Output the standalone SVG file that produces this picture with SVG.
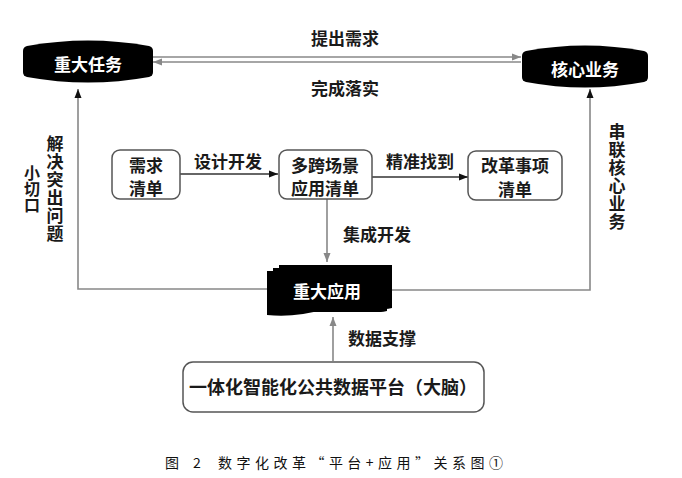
<svg xmlns="http://www.w3.org/2000/svg" width="682" height="478" viewBox="0 0 682 478">
<style>
  .t{font-family:"Noto Sans CJK SC","Noto Sans",sans-serif;font-weight:bold;fill:#1a1a1a;font-size:17px}
  .w{fill:#ffffff}
  .c{text-anchor:middle;dominant-baseline:central}
  .v{writing-mode:vertical-rl;text-anchor:middle}
  .box{fill:#ffffff;stroke:#555;stroke-width:1.5}
  .blk{fill:#000}
  .lg{fill:none;stroke:#888;stroke-width:1.6}
  .lb{fill:none;stroke:#333;stroke-width:1.5}
  .cap{font-family:"Noto Sans CJK SC","Noto Sans",sans-serif;font-size:14px;fill:#111}
</style>
<defs>
  <marker id="ag" markerUnits="userSpaceOnUse" markerWidth="10" markerHeight="10" refX="9" refY="5" orient="auto">
    <path d="M0,1.5 L9,5 L0,8.5 Z" fill="#888"/>
  </marker>
  <marker id="ab" markerUnits="userSpaceOnUse" markerWidth="10" markerHeight="10" refX="9" refY="5" orient="auto">
    <path d="M0,1.5 L9,5 L0,8.5 Z" fill="#111"/>
  </marker>
</defs>
<rect width="682" height="478" fill="#ffffff"/>

<g id="connectors">
  <line class="lg" x1="153" y1="57" x2="521" y2="57" marker-end="url(#ag)"/>
  <line class="lg" x1="521" y1="62" x2="153" y2="62" marker-end="url(#ag)"/>
  <polyline class="lg" points="268,289 78,289 78,89" marker-end="url(#ab)"/>
  <polyline class="lg" points="390,290 590,290 590,89" marker-end="url(#ab)"/>
  <line class="lb" x1="180" y1="174" x2="278" y2="174" marker-end="url(#ab)"/>
  <line class="lb" x1="372" y1="177" x2="468" y2="177" marker-end="url(#ab)"/>
  <line class="lg" x1="327" y1="199" x2="327" y2="262" marker-end="url(#ag)"/>
  <line class="lg" x1="333" y1="361" x2="333" y2="317" marker-end="url(#ag)"/>
  <text class="t c" x="345" y="37">提出需求</text>
  <text class="t c" x="345" y="87">完成落实</text>
  <text class="t c" x="228" y="160">设计开发</text>
  <text class="t c" x="420" y="160">精准找到</text>
  <text class="t c" x="377" y="233">集成开发</text>
  <text class="t c" x="382" y="337">数据支撑</text>
  <text class="t v" x="55" y="189" style="letter-spacing:1px">解决突出问题</text>
  <text class="t v" x="32" y="189" style="font-size:16px">小切口</text>
  <text class="t v" x="617" y="177" style="letter-spacing:1px">串联核心业务</text>
</g>

<g id="zdrw">
  <path class="blk" d="M27,46 Q88,35 149,46 Q153,47 153,51 L153,72 Q153,76 149,77 Q88,88 27,77 Q23,76 23,72 L23,51 Q23,47 27,46 Z"/>
  <text class="t c w" x="88" y="63">重大任务</text>
</g>

<g id="hxyw">
  <path class="blk" d="M526,51 Q585,40 644,51 Q648,52 648,56 L648,77 Q648,81 644,82 Q585,93 526,82 Q522,81 522,77 L522,56 Q522,52 526,51 Z"/>
  <text class="t c w" x="585" y="68">核心业务</text>
</g>

<g id="xqqd">
  <rect class="box" x="112" y="150" width="68" height="49" rx="8"/>
  <text class="t c" x="146" y="164">需求</text>
  <text class="t c" x="146" y="187">清单</text>
</g>

<g id="dkcj">
  <rect class="box" x="279" y="150" width="93" height="49" rx="8"/>
  <text class="t c" x="325" y="164">多跨场景</text>
  <text class="t c" x="325" y="187">应用清单</text>
</g>

<g id="ggsx">
  <rect class="box" x="468" y="151" width="94" height="49" rx="8"/>
  <text class="t c" x="515" y="164">改革事项</text>
  <text class="t c" x="515" y="188">清单</text>
</g>

<g id="zdyy">
  <path class="blk" d="M279,265 L392,265 L392,308 Q388,309 386,309 L279,309 Z"/>
  <path class="blk" d="M273,268 L387,268 L387,311 Q383,312 381,312 L273,312 Z"/>
  <path class="blk" d="M267,271 L382,271 L382,306 Q355,300 325,309 Q295,318 267,315 Z"/>
  <text class="t c w" x="327" y="290">重大应用</text>
</g>

<g id="dnpt">
  <rect class="box" x="183" y="362" width="301" height="50" rx="10"/>
  <text class="t c" x="333" y="386" style="font-size:18px">一体化智能化公共数据平台（大脑）</text>
</g>

<g id="caption">
  <text class="cap" x="165" y="468">图</text>
  <text class="cap" x="193" y="468">2</text>
  <text class="cap" x="218" y="468" textLength="285" lengthAdjust="spacing">数字化改革“平台+应用”关系图①</text>
</g>
</svg>
